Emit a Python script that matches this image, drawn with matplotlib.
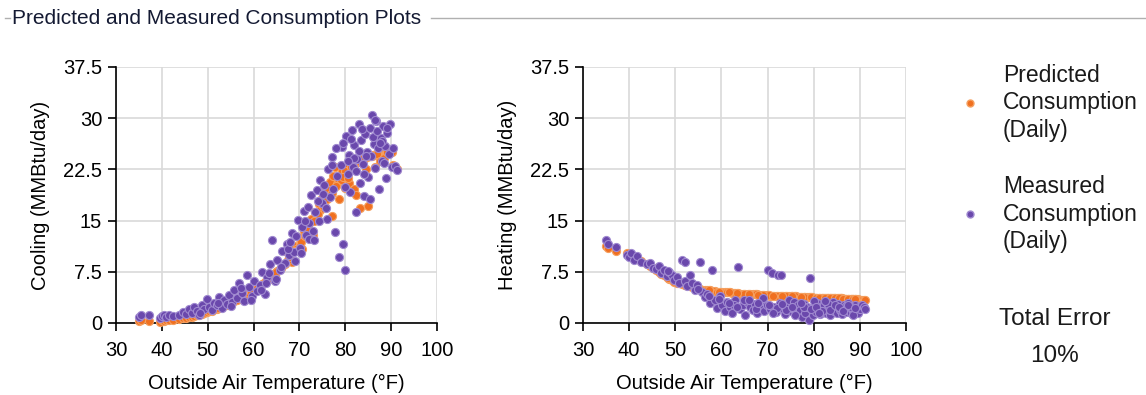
import matplotlib
matplotlib.use("Agg")
import matplotlib.pyplot as plt
from matplotlib.lines import Line2D

# outside air temperature of each day (F)
temps = [35.0, 35.4, 37.1, 39.6, 40.0, 40.4, 41.0, 41.6, 42.5, 43.8,
         44.6, 45.2, 45.9, 46.5, 47.0, 47.6, 48.1, 48.7, 49.2, 49.8,
         50.3, 50.9, 51.4, 52.0, 52.5, 53.1, 53.6, 54.2, 54.7, 55.3,
         55.8, 56.4, 56.9, 57.5, 58.0, 58.6, 59.1, 59.7, 60.2, 60.8,
         61.3, 61.9, 62.4, 63.0, 63.5, 64.1, 64.6, 65.2, 65.7, 66.3,
         66.8, 67.3, 67.8, 68.3, 68.8, 69.3, 69.8, 70.2, 70.6, 71.0,
         71.4, 71.8, 72.2, 72.6, 73.0, 73.4, 73.8, 74.2, 74.6, 75.0,
         75.4, 75.8, 76.2, 76.6, 77.0, 77.4, 77.8, 78.2, 78.6, 79.0,
         79.3, 79.6, 79.9, 80.2, 80.5, 80.8, 81.1, 81.4, 81.7, 82.0,
         82.3, 82.6, 82.9, 83.2, 83.5, 83.8, 84.1, 84.4, 84.7, 85.0,
         85.3, 85.6, 85.9, 86.2, 86.5, 86.8, 87.1, 87.4, 87.7, 88.0,
         88.3, 88.6, 88.9, 89.2, 89.5, 89.8, 90.1, 90.4, 90.8, 91.2,
         70.4, 72.0, 74.0, 76.0, 78.0, 80.0, 81.9, 84.0, 86.0, 88.1,
         62.7, 65.0, 67.5, 69.0, 71.2, 73.2, 75.2, 77.2, 79.5, 83.0,
         48.4, 52.2, 55.0, 57.2, 59.5, 61.6, 63.3, 66.0, 68.0, 87.0,
         80.6, 81.2, 82.4, 83.6, 84.6, 85.4, 86.4, 87.5, 88.5, 89.0]

cool_meas = [0.9, 1.1, 1.2, 0.8, 1.0, 1.1, 0.9, 1.2, 1.0, 1.1,
             1.6, 1.3, 2.1, 1.5, 2.4, 1.8, 1.2, 2.6, 2.0, 3.5,
             2.3, 1.9, 3.0, 2.6, 3.8, 2.2, 3.3, 2.8, 4.1, 3.1,
             4.8, 3.6, 5.9, 4.4, 3.2, 7.0, 5.3, 4.0, 6.2, 4.7,
             5.5, 7.4, 4.2, 6.8, 8.6, 12.2, 6.1, 9.3, 7.7, 10.5,
             8.8, 11.6, 9.9, 13.2, 10.4, 12.7, 15.1, 11.0, 14.0, 16.4,
             12.9, 17.0, 14.6, 18.8, 13.5, 16.2, 19.5, 15.0, 21.0, 17.6,
             20.2, 16.8, 22.5, 18.4, 24.3, 19.7, 13.3, 21.6, 9.6, 23.1,
             25.8, 11.5, 7.8, 27.4, 21.8, 24.6, 19.2, 28.2, 22.9, 26.1,
             16.3, 24.0, 29.1, 20.5, 26.8, 23.3, 18.6, 27.7, 25.1, 21.4,
             28.6, 24.4, 30.5, 26.2, 22.7, 29.6, 25.6, 19.6, 27.1, 23.8,
             28.9, 25.9, 21.2, 27.8, 24.7, 29.1, 22.9, 25.6, 23.0, 22.4,
             10.2, 12.3, 17.8, 15.3, 25.6, 19.9, 24.1, 21.8, 27.3, 26.6,
             5.9, 6.5, 10.8, 9.1, 14.9, 12.1, 18.9, 23.2, 26.3, 25.2,
             1.5, 2.9, 2.5, 5.1, 3.3, 4.8, 7.3, 8.2, 11.9, 28.1,
             23.7, 26.9, 22.2, 28.4, 24.5, 18.1, 29.7, 26.4, 23.5, 28.5]

cool_pred = [0.3, 0.4, 0.3, 0.2, 0.4, 0.3, 0.4, 0.5, 0.5, 0.6,
             0.7, 0.8, 0.9, 0.9, 1.0, 1.1, 1.2, 1.3, 1.4, 1.6,
             1.7, 1.8, 2.0, 2.1, 2.3, 2.4, 2.6, 2.7, 2.9, 3.1,
             3.2, 3.4, 3.6, 3.8, 4.0, 4.2, 4.4, 4.6, 4.9, 5.1,
             5.4, 5.7, 6.0, 6.3, 6.6, 6.9, 7.2, 7.6, 7.9, 8.3,
             8.7, 10.4, 9.5, 8.9, 11.3, 10.8, 12.6, 11.6, 10.9, 13.5,
             12.9, 14.6, 13.8, 15.3, 12.9, 16.2, 15.6, 17.5, 16.5, 18.3,
             17.4, 19.8, 18.3, 20.7, 19.1, 21.5, 22.9, 20.3, 18.2, 21.0,
             22.3, 21.5, 19.8, 23.0, 22.3, 20.5, 23.7, 22.9, 24.1, 23.3,
             23.4, 23.6, 23.7, 16.8, 23.9, 24.0, 24.1, 24.2, 24.3, 17.1,
             24.4, 24.5, 24.5, 24.6, 24.6, 24.7, 24.7, 24.8, 24.8, 24.8,
             24.9, 24.9, 24.9, 25.0, 25.0, 25.0, 25.0, 23.2, 22.8, 22.6,
             11.8, 13.6, 15.9, 18.1, 20.1, 22.2, 19.6, 24.1, 24.6, 24.0,
             6.2, 7.4, 9.3, 10.5, 12.7, 14.9, 17.2, 15.6, 21.4, 23.8,
             1.3, 2.2, 3.0, 3.7, 4.5, 5.6, 6.5, 8.1, 9.6, 24.7,
             21.2, 22.8, 18.8, 24.0, 22.6, 24.4, 22.9, 23.8, 24.2, 25.1]

heat_meas = [12.1, 11.6, 11.2, 10.0, 9.6, 10.3, 9.3, 9.8, 9.0, 8.6,
             8.8, 8.1, 7.9, 8.4, 7.3, 7.8, 6.9, 7.5, 7.0, 6.3,
             6.8, 5.9, 9.2, 6.2, 5.4, 7.1, 5.8, 4.9, 5.5, 9.0,
             4.6, 3.8, 4.3, 2.9, 7.8, 3.4, 2.2, 3.9, 2.6, 1.7,
             3.1, 2.4, 1.5, 3.3, 8.2, 2.0, 2.7, 1.2, 3.0, 2.3,
             1.9, 2.8, 1.4, 2.5, 3.2, 1.8, 2.6, 7.8, 2.1, 7.3,
             2.4, 1.6, 7.1, 2.9, 7.0, 2.0, 1.3, 2.7, 3.4, 1.7,
             2.2, 3.1, 1.5, 2.6, 1.9, 0.9, 2.8, 1.4, 2.3, 0.5,
             6.6, 2.0, 1.1, 2.7, 1.6, 3.0, 2.2, 1.3, 2.5, 1.8,
             2.6, 1.4, 2.9, 2.0, 1.2, 2.4, 3.1, 1.7, 2.2, 1.5,
             2.8, 1.9, 2.3, 1.3, 2.6, 2.0, 1.6, 2.9, 2.2, 1.4,
             2.5, 1.8, 2.7, 2.1, 1.5, 2.4, 2.0, 2.6, 2.3, 2.0,
             2.7, 2.2, 1.9, 1.1, 2.4, 3.2, 1.7, 2.5, 1.9, 2.4,
             2.6, 3.4, 2.1, 3.6, 1.4, 2.8, 2.4, 3.0, 2.1, 2.8,
             7.6, 8.9, 5.0, 4.0, 3.5, 2.9, 2.3, 3.3, 2.9, 2.5,
             2.4, 1.5, 3.2, 1.9, 2.6, 2.3, 1.8, 2.7, 1.2, 2.2]

heat_pred = [11.3, 11.0, 10.6, 10.2, 10.0, 9.9, 9.6, 9.4, 9.1, 8.7,
             8.4, 8.1, 7.8, 7.5, 7.2, 7.0, 6.8, 6.5, 6.3, 6.0,
             5.9, 5.8, 5.7, 5.6, 5.5, 5.4, 5.3, 5.2, 5.1, 5.0,
             4.9, 4.9, 4.8, 4.8, 4.7, 4.7, 4.6, 4.6, 4.6, 4.5,
             4.5, 4.5, 4.4, 4.4, 4.4, 4.3, 4.3, 4.3, 4.3, 4.2,
             4.2, 4.2, 4.2, 4.1, 4.1, 4.1, 4.1, 4.1, 4.0, 4.0,
             4.0, 4.0, 4.0, 4.0, 3.9, 3.9, 3.9, 3.9, 3.9, 3.9,
             3.9, 3.9, 3.9, 3.8, 3.8, 3.8, 3.8, 3.8, 3.8, 3.8,
             3.8, 3.8, 3.7, 3.7, 3.7, 3.7, 3.7, 3.7, 3.7, 3.7,
             3.7, 3.7, 3.6, 3.6, 3.6, 3.6, 3.6, 3.6, 3.6, 3.6,
             3.6, 3.6, 3.6, 3.6, 3.5, 3.5, 3.5, 3.5, 3.5, 3.5,
             3.5, 3.5, 3.5, 3.5, 3.5, 3.4, 3.4, 3.4, 3.4, 3.3,
             4.1, 4.0, 3.9, 3.9, 3.8, 3.7, 3.7, 3.6, 3.6, 3.5,
             4.4, 4.3, 4.2, 4.1, 4.0, 3.9, 3.9, 3.8, 3.8, 3.7,
             6.6, 5.6, 5.0, 4.8, 4.6, 4.5, 4.4, 4.2, 4.1, 3.5,
             3.7, 3.7, 3.6, 3.6, 3.6, 3.6, 3.5, 3.5, 3.5, 3.5]

x_ticks = [30, 40, 50, 60, 70, 80, 90, 100]
y_ticks = [0, 7.5, 15, 22.5, 30, 37.5]
y_tick_labels = ["0", "7.5", "15", "22.5", "30", "37.5"]

ORANGE = "#F07020"
ORANGE_EDGE = "#F5A060"
PURPLE = "#6A48AC"
PURPLE_EDGE = "#A08AD0"

plt.rcParams['font.family'] = ['Liberation Sans', 'DejaVu Sans']

fig = plt.figure(figsize=(11.46, 3.95), dpi=100)
fig.patch.set_facecolor("white")

def setupAxis(ax, ylabel):
    ax.set_xlim(30, 100)
    ax.set_ylim(0, 37.5)
    ax.set_xticks(x_ticks)
    ax.set_yticks(y_ticks)
    ax.set_yticklabels(y_tick_labels)
    ax.grid(True, color="#D9D9D9", linewidth=1.2)
    ax.set_axisbelow(True)
    for s in ["top", "right"]:
        ax.spines[s].set_visible(False)
    for s in ["left", "bottom"]:
        ax.spines[s].set_linewidth(1.2)
    ax.tick_params(direction="out", length=6, width=1.2, labelsize=14.5, pad=4)
    ax.tick_params(axis="x", pad=7)
    ax.set_xlabel("Outside Air Temperature (°F)", fontsize=14.5, labelpad=10)
    ax.set_ylabel(ylabel, fontsize=14.5, labelpad=9)

axCool = fig.add_axes([0.1012, 0.1823, 0.2801, 0.6481])
axHeat = fig.add_axes([0.5087, 0.1823, 0.2819, 0.6481])

for ax, pred, meas, lbl in [(axCool, cool_pred, cool_meas, "Cooling (MMBtu/day)"),
                            (axHeat, heat_pred, heat_meas, "Heating (MMBtu/day)")]:
    setupAxis(ax, lbl)
    ax.scatter(temps, pred, s=34, color=ORANGE, edgecolors=ORANGE_EDGE, linewidths=0.8, zorder=3, clip_on=False)
    ax.scatter(temps, meas, s=34, color=PURPLE, edgecolors=PURPLE_EDGE, linewidths=0.8, zorder=4, clip_on=False)

# group box title
fig.text(0.0105, 1 - 18 / 395, "Predicted and Measured Consumption Plots", fontsize=15,
         color="#141A33", va="center", ha="left")
fig.add_artist(Line2D([0.004, 0.009], [1 - 18 / 395] * 2, color="#B0B0B0", linewidth=1))
fig.add_artist(Line2D([0.376, 1.0], [1 - 18 / 395] * 2, color="#B0B0B0", linewidth=1))

# legend
fig.add_artist(Line2D([970 / 1146], [1 - 103 / 395], marker="o", markersize=5,
                      color=ORANGE, markeredgecolor=ORANGE_EDGE, linestyle="none"))
fig.add_artist(Line2D([970 / 1146], [1 - 214 / 395], marker="o", markersize=5,
                      color=PURPLE, markeredgecolor=PURPLE_EDGE, linestyle="none"))
fig.text(1003 / 1146, 1 - 103 / 395, "Predicted\nConsumption\n(Daily)", fontsize=16.5,
         va="center", ha="left", linespacing=1.25, color="#1A1A1A")
fig.text(1003 / 1146, 1 - 214 / 395, "Measured\nConsumption\n(Daily)", fontsize=16.5,
         va="center", ha="left", linespacing=1.25, color="#1A1A1A")

fig.text(1055 / 1146, 1 - 319 / 395, "Total Error", fontsize=17.5, ha="center", va="center", color="#1A1A1A")
fig.text(1055 / 1146, 1 - 356 / 395, "10%", fontsize=17.5, ha="center", va="center", color="#1A1A1A")

fig.savefig("out.png", dpi=100)
